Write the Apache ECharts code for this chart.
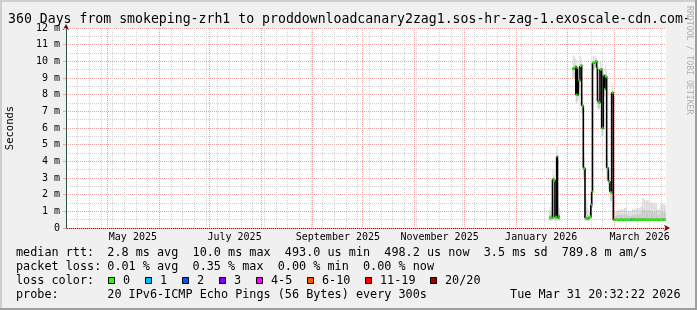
<!DOCTYPE html>
<html><head><meta charset="utf-8">
<script src="https://cdn.jsdelivr.net/npm/echarts@6/dist/echarts.min.js"></script>
<style>html,body{margin:0;padding:0;background:#f0f0f0}#c{width:697px;height:310px}</style>
</head><body><div id="c"></div>
<script>
// ---------- data ----------
const TITLE = '360 Days from smokeping-zrh1 to proddownloadcanary2zag1.sos-hr-zag-1.exoscale-cdn.com-';
const END_TIME = '2026-03-31 20:32:22';
const SPAN_DAYS = 360;
const yTickLabels = ['0','1 m','2 m','3 m','4 m','5 m','6 m','7 m','8 m','9 m','10 m','11 m','12 m'];
const monthLabelText = ['May 2025','July 2025','September 2025','November 2025','January 2026','March 2026'];
const monthLabelDates = ['2025-05-16','2025-07-16','2025-09-16','2025-11-16','2026-01-16','2026-03-16'];
const monthStarts = ['2025-05-01','2025-06-01','2025-07-01','2025-08-01','2025-09-01','2025-10-01','2025-11-01','2025-12-01','2026-01-01','2026-02-01','2026-03-01'];
const FIRST_WEEK_LINE = '2025-04-06';

const times = [
 '2026-01-21 00:00','2026-01-21 12:00','2026-01-22 00:00','2026-01-22 12:00','2026-01-23 00:00','2026-01-23 12:00','2026-01-24 00:00','2026-01-24 12:00','2026-01-25 00:00','2026-01-25 12:00','2026-01-26 00:00','2026-01-26 12:00','2026-01-27 00:00','2026-01-27 12:00',
 '2026-02-04 00:00','2026-02-04 12:00','2026-02-05 00:00','2026-02-05 12:00','2026-02-06 00:00','2026-02-06 12:00','2026-02-07 00:00','2026-02-07 12:00','2026-02-08 00:00','2026-02-08 12:00',
 '2026-02-09 00:00','2026-02-09 12:00','2026-02-10 00:00','2026-02-10 12:00','2026-02-11 00:00','2026-02-11 12:00','2026-02-12 00:00','2026-02-12 12:00','2026-02-13 00:00','2026-02-13 12:00',
 '2026-02-14 00:00','2026-02-14 12:00','2026-02-15 00:00','2026-02-15 12:00','2026-02-16 00:00','2026-02-16 12:00','2026-02-17 00:00','2026-02-17 12:00','2026-02-18 00:00','2026-02-18 12:00',
 '2026-02-19 00:00','2026-02-19 12:00','2026-02-20 00:00','2026-02-20 12:00','2026-02-21 00:00','2026-02-21 12:00','2026-02-22 00:00','2026-02-22 12:00','2026-02-23 00:00','2026-02-23 12:00',
 '2026-02-24 00:00','2026-02-24 12:00','2026-02-25 00:00','2026-02-25 12:00','2026-02-26 00:00','2026-02-26 12:00','2026-02-27 00:00','2026-02-27 12:00','2026-02-28 00:00','2026-02-28 12:00',
 '2026-03-01 00:00','2026-03-02 00:00','2026-03-03 00:00','2026-03-04 00:00','2026-03-05 00:00','2026-03-06 00:00','2026-03-07 00:00','2026-03-08 00:00','2026-03-09 00:00','2026-03-10 00:00',
 '2026-03-11 00:00','2026-03-12 00:00','2026-03-13 00:00','2026-03-14 00:00','2026-03-15 00:00','2026-03-16 00:00','2026-03-17 00:00','2026-03-18 00:00','2026-03-19 00:00','2026-03-20 00:00',
 '2026-03-21 00:00','2026-03-22 00:00','2026-03-23 00:00','2026-03-24 00:00','2026-03-25 00:00','2026-03-26 00:00','2026-03-27 00:00','2026-03-28 00:00','2026-03-29 00:00','2026-03-30 00:00',
 '2026-03-31 00:00','2026-03-31 12:00'
];
// median rtt in ms
const median = [
 0.62,0.66,0.64,0.62,2.92,2.88,2.85,0.64,0.68,4.28,0.62,0.68,0.62,null,
 9.55,9.58,9.62,9.68,8.0,9.6,7.98,8.88,8.85,9.72,
 9.75,7.34,7.3,3.58,3.56,0.58,0.55,0.6,0.58,0.62,
 0.65,0.68,1.4,2.18,9.9,9.92,9.95,10.0,9.98,9.6,
 7.6,7.52,7.55,9.52,9.5,5.98,6.0,9.15,8.34,9.1,
 9.05,3.6,3.58,2.8,2.75,2.15,2.12,8.12,8.1,0.48,
 0.49,0.5,0.49,0.5,0.5,0.49,0.5,0.5,0.49,0.5,
 0.5,0.51,0.5,0.49,0.5,0.5,0.51,0.5,0.5,0.49,
 0.5,0.5,0.5,0.49,0.5,0.5,0.49,0.5,0.5,0.5,
 0.5,0.5
];
const smokeLo = [
 0.45,0.45,0.45,0.45,0.5,0.5,0.5,0.45,0.45,0.5,0.45,0.45,0.45,null,
 9.0,9.1,9.0,8.5,7.5,8.8,7.6,8.3,8.3,9.2,
 9.3,6.9,6.8,3.0,2.8,0.45,0.45,0.45,0.45,0.45,
 0.45,0.5,0.6,1.2,9.4,9.5,9.6,9.7,9.6,9.0,
 7.2,7.1,7.2,9.0,9.0,5.5,5.5,8.8,7.9,8.7,
 8.6,3.0,2.9,2.3,2.2,1.6,1.6,7.6,7.5,0.42,
 0.45,0.45,0.45,0.45,0.45,0.45,0.45,0.45,0.45,0.45,
 0.45,0.45,0.45,0.45,0.45,0.45,0.45,0.45,0.45,0.45,
 0.45,0.45,0.45,0.45,0.45,0.45,0.45,0.45,0.45,0.45,
 0.45,0.45
];
const smokeHi = [
 1.1,1.3,1.0,1.2,3.4,3.5,3.2,1.3,1.2,4.9,1.4,1.3,1.2,null,
 10.3,10.4,10.3,10.2,9.8,10.1,9.5,9.6,9.7,10.3,
 10.2,8.2,8.0,4.4,4.2,1.6,1.9,1.7,1.2,1.1,
 1.0,1.2,2.0,3.0,10.3,10.3,10.3,10.3,10.2,10.1,
 8.3,8.0,8.1,10.0,9.9,6.6,6.8,9.6,9.2,9.8,
 9.6,4.3,4.0,3.3,3.4,2.8,2.6,8.7,8.5,1.0,
 0.98,1.0,1.1,1.08,1.12,1.1,1.2,1.22,1.0,1.02,
 0.98,1.15,1.12,1.18,1.15,1.2,1.3,1.8,1.7,1.65,
 1.68,1.5,1.55,1.45,1.52,1.48,1.1,1.15,1.4,1.45,
 1.38,1.35
];
// lost pings (of 20) per step
const lossCount = [
 0,0,0,0,0,0,0,0,0,0,0,0,0,null,
 0,0,0,1,0,0,0,0,0,0,
 0,0,0,0,0,0,0,0,0,0,
 0,0,0,0,0,0,0,0,0,0,
 0,0,0,0,0,0,0,0,0,0,
 0,0,1,0,0,0,0,0,0,0,
 0,0,0,0,0,0,0,0,0,0,
 1,0,0,0,0,0,0,0,0,0,
 0,0,0,0,0,0,0,0,0,0,
 0,0
];
const lossLegend = ['0','1','2','3','4-5','6-10','11-19','20/20'];
const lossUpper  = [0,1,2,3,5,10,19,20];
const lossColors = ['#26ff00','#00b8ff','#0059ff','#7e00ff','#ff00ff','#ff5500','#ff0000','#a10000'];
const statsRtt  = '2.8 ms avg  10.0 ms max  493.0 us min  498.2 us now  3.5 ms sd  789.8 m am/s';
const statsLoss = '0.01 % avg  0.35 % max  0.00 % min  0.00 % now';
const probeText = '20 IPv6-ICMP Echo Pings (56 Bytes) every 300s';
const stampText = 'Tue Mar 31 20:32:22 2026';

// ---------- helpers ----------
const DAY = 86400000;
function toTs(s){
  if (s.length === 10) return Date.parse(s + 'T00:00:00Z');
  if (s.length === 16) return Date.parse(s.replace(' ','T') + ':00Z');
  return Date.parse(s.replace(' ','T') + 'Z');
}
const endTs = toTs(END_TIME);
const startTs = endTs - SPAN_DAYS * DAY;
const labelTs = monthLabelDates.map(toTs);
const monthTs = monthStarts.map(toTs);
const weekTs = [];
for (let t = toTs(FIRST_WEEK_LINE); t < endTs; t += 7 * DAY) weekTs.push(t);

const T = times.map(toTs);
const N = T.length;
// each row: [t, median, lo, hi, loss, leftEdge, rightEdge]
const rows = T.map((t, i) => {
  const ok = median[i] != null;
  const prevOk = i > 0 && median[i-1] != null;
  const nextOk = i < N-1 && median[i+1] != null;
  const left = prevOk ? (T[i-1] + t) / 2 : t - (T[i+1] - t) / 2;
  const right = nextOk ? (t + T[i+1]) / 2 : t + (t - T[i-1]) / 2;
  return [t, ok ? median[i] : '-', ok ? smokeLo[i] : '-', ok ? smokeHi[i] : '-', ok ? lossCount[i] : '-', left, right];
});
function lossColor(n){ for (let k = 0; k < lossUpper.length; k++) if (n <= lossUpper[k]) return lossColors[k]; return lossColors[lossColors.length-1]; }

const MONO = '"DejaVu Sans Mono", monospace';

function vline(color){
  return function(params, api){
    const cs = params.coordSys;
    const x = Math.floor(api.coord([api.value(0), 0])[0]) + 0.5;
    return {type:'line', silent:true, shape:{x1:x, y1:cs.y, x2:x, y2:cs.y+cs.height},
            style:{stroke:color, lineWidth:1, lineDash:[1,1]}};
  };
}
function smokeItem(params, api){
  const r = rows[params.dataIndex];
  if (r[1] === '-') return null;
  const lo = r[2], hi = r[3];
  const p1 = api.coord([r[5], hi]), p2 = api.coord([r[6], lo]);
  const pm = api.coord([r[5], lo + 0.5 * (hi - lo)]);
  return {type:'group', children:[
    {type:'rect', shape:{x:p1[0], y:p1[1], width:p2[0]-p1[0], height:p2[1]-p1[1]}, style:{fill:'#dddddd'}},
    {type:'rect', shape:{x:p1[0], y:pm[1], width:p2[0]-p1[0], height:p2[1]-pm[1]}, style:{fill:'#c9c9c9'}}
  ]};
}
function medianItem(params, api){
  const i = params.dataIndex, r = rows[i];
  if (r[1] === '-') return null;
  const pts = [api.coord([r[5], r[1]]), api.coord([r[6], r[1]])];
  const n = rows[i+1];
  if (n && n[1] !== '-') pts.push(api.coord([r[6], n[1]]));
  return {type:'polyline', shape:{points:pts}, style:{stroke:'#000', lineWidth:1.6, fill:null}};
}
function lossItem(params, api){
  const r = rows[params.dataIndex];
  if (r[1] === '-') return null;
  const a = api.coord([r[5], r[1]]), b = api.coord([r[6], r[1]]);
  return {type:'rect', shape:{x:a[0], y:a[1]-1.2, width:Math.max(b[0]-a[0], 1), height:2.4}, style:{fill:lossColor(r[4])}};
}

// ---------- graphics (title, legend, frame) ----------
const g = [];
function txt(x, y, s, size, opt){
  g.push(Object.assign({type:'text', x:x, y:y, silent:true,
    style:{text:s, font:size + 'px ' + MONO, fill:'#000', align:'left', verticalAlign:'middle'}}, opt || {}));
}
g.push({type:'rect', shape:{x:0,y:0,width:697,height:2}, style:{fill:'#cfcfcf'}, silent:true});
g.push({type:'rect', shape:{x:0,y:0,width:2,height:310}, style:{fill:'#cfcfcf'}, silent:true});
g.push({type:'rect', shape:{x:0,y:308,width:697,height:2}, style:{fill:'#9e9e9e'}, silent:true});
g.push({type:'rect', shape:{x:695,y:0,width:2,height:310}, style:{fill:'#9e9e9e'}, silent:true});
txt(8, 20, TITLE, 13.2);
g.push({type:'text', x:10, y:128, rotation:Math.PI/2, silent:true,
  style:{text:'Seconds', font:'10.5px ' + MONO, fill:'#000', align:'center', verticalAlign:'middle'}});
g.push({type:'text', x:689, y:6, rotation:-Math.PI/2, silent:true,
  style:{text:'RRDTOOL / TOBI OETIKER', font:'8.2px ' + MONO, fill:'#b0b0b0', align:'left', verticalAlign:'middle'}});
const LF = 11.8, L1 = 253, LS = 14, VX = 107.3, CW = 7.0;
txt(16, L1, 'median rtt:', LF); txt(VX, L1, statsRtt, LF);
txt(16, L1+LS, 'packet loss:', LF); txt(VX, L1+LS, statsLoss, LF);
txt(16, L1+2*LS, 'loss color:', LF);
let bx = 108;
lossLegend.forEach((lab, k) => {
  g.push({type:'rect', silent:true, shape:{x:bx+0.5, y:L1+2*LS-3.5, width:6, height:6}, style:{fill:lossColors[k], stroke:'#000', lineWidth:1}});
  txt(bx + 15, L1+2*LS, lab, LF);
  bx = bx + 15 + lab.length * CW + 15;
});
txt(16, L1+3*LS, 'probe:', LF); txt(VX, L1+3*LS, probeText, LF);
g.push({type:'text', x:680.5, y:L1+3*LS, silent:true, style:{text:stampText, font:LF + 'px ' + MONO, fill:'#000', align:'right', verticalAlign:'middle'}});

// ---------- chart ----------
const chart = echarts.init(document.getElementById('c'), null, {renderer:'canvas'});
const GRID_MAJOR = '#eba4a4', GRID_MINOR = '#d2d2d2', AXIS = '#2c4d43', ARROW = '#7f0000';
const rowData = rows.map(r => [r[0], r[1] === '-' ? 0 : r[1]]);
chart.setOption({
  animation:false,
  backgroundColor:'#f0f0f0',
  grid:{left:66, right:31, top:28, bottom:82, show:true, backgroundColor:'#ffffff', borderWidth:0},
  xAxis:[
    {type:'value', min:startTs, max:endTs,
     axisLine:{show:true, onZero:false, lineStyle:{color:AXIS, width:1}},
     axisTick:{show:false}, splitLine:{show:false},
     axisLabel:{customValues:labelTs, margin:4, color:'#000', fontFamily:MONO, fontSize:10,
       formatter:function(v){ let best=0; for (let k=1;k<labelTs.length;k++) if (Math.abs(labelTs[k]-v) < Math.abs(labelTs[best]-v)) best=k; return monthLabelText[best]; }}},
    {type:'value', min:0, max:1, position:'bottom', show:true,
     axisLine:{show:true, onZero:false, symbol:['none','arrow'], symbolSize:[5,6], symbolOffset:[0,4], lineStyle:{color:ARROW, width:0}},
     axisTick:{show:false}, axisLabel:{show:false}, splitLine:{show:false}}
  ],
  yAxis:[
    {type:'value', min:0, max:12, interval:1, z:2,
     axisLine:{show:true, onZero:false, lineStyle:{color:AXIS, width:1}},
     axisTick:{show:true, length:3, lineStyle:{color:GRID_MAJOR}},
     axisLabel:{margin:6, color:'#000', fontFamily:MONO, fontSize:10,
       formatter:function(v){ return yTickLabels[Math.round(v)]; }},
     splitLine:{show:true, lineStyle:{color:GRID_MAJOR, type:[1,1], width:1}},
     minorTick:{show:false, splitNumber:2},
     minorSplitLine:{show:true, lineStyle:{color:GRID_MINOR, type:[1,1], width:1}}},
    {type:'value', min:0, max:1, position:'left', show:true,
     axisLine:{show:true, onZero:false, symbol:['none','arrow'], symbolSize:[5,6], symbolOffset:[0,4], lineStyle:{color:ARROW, width:0}},
     axisTick:{show:false}, axisLabel:{show:false}, splitLine:{show:false}}
  ],
  series:[
    {type:'custom', name:'smoke', z:1, clip:true, renderItem:smokeItem, data:rowData, encode:{x:0, y:1}, silent:true},
    {type:'custom', name:'weeks', z:2, clip:true, renderItem:vline(GRID_MINOR),
     data:weekTs.map(t=>[t,0]), encode:{x:0, y:1}, silent:true},
    {type:'custom', name:'months', z:2, clip:true, renderItem:vline(GRID_MAJOR),
     data:monthTs.map(t=>[t,0]), encode:{x:0, y:1}, silent:true},
    {type:'custom', name:'median', z:3, clip:true, renderItem:medianItem, data:rowData, encode:{x:0, y:1}, silent:true},
    {type:'custom', name:'loss', z:4, clip:true, renderItem:lossItem, data:rowData, encode:{x:0, y:1}, silent:true}
  ],
  graphic:g
});
</script>
</body></html>
